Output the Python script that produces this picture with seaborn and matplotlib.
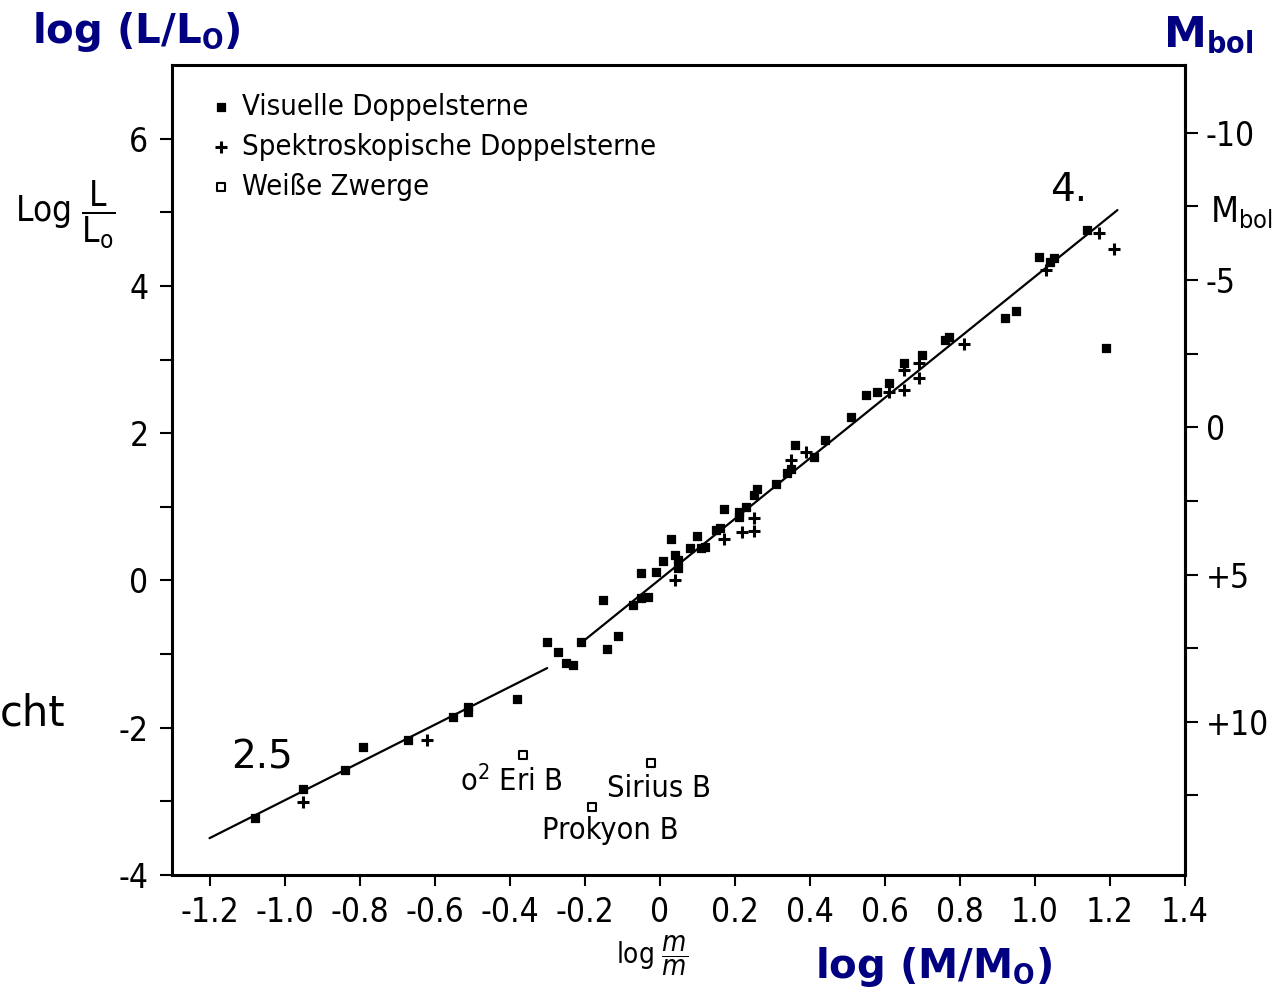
import numpy as np
import pandas as pd
import matplotlib
matplotlib.use('Agg')
import matplotlib.pyplot as plt
import seaborn as sns
from matplotlib import font_manager
from matplotlib.ticker import FixedLocator

# Masse-Leuchtkraft-Beziehung: log(M/Mo) gegen log(L/Lo)
vis_logm = [-1.08, -0.95, -0.84, -0.79, -0.67, -0.55, -0.51, -0.51, -0.38,
            -0.30, -0.27, -0.25, -0.23, -0.21, -0.15, -0.14, -0.11, -0.07,
            -0.05, -0.03, -0.05, -0.01, 0.03, 0.01, 0.04, 0.05, 0.05, 0.08,
            0.10, 0.11, 0.12, 0.15, 0.16, 0.17, 0.21, 0.21, 0.23, 0.25, 0.26,
            0.31, 0.34, 0.35, 0.36, 0.41, 0.44, 0.51, 0.55, 0.58, 0.61, 0.65,
            0.70, 0.76, 0.77, 0.92, 0.95, 1.01, 1.04, 1.05, 1.14, 1.19]
vis_logl = [-3.23, -2.83, -2.57, -2.26, -2.17, -1.85, -1.72, -1.79, -1.61,
            -0.84, -0.97, -1.12, -1.15, -0.84, -0.27, -0.93, -0.75, -0.33,
            -0.24, -0.22, 0.10, 0.12, 0.56, 0.27, 0.35, 0.28, 0.17, 0.44,
            0.60, 0.44, 0.46, 0.69, 0.71, 0.97, 0.86, 0.93, 1.00, 1.16, 1.24,
            1.31, 1.46, 1.51, 1.84, 1.68, 1.91, 2.22, 2.52, 2.56, 2.68, 2.95,
            3.06, 3.27, 3.31, 3.57, 3.66, 4.39, 4.33, 4.38, 4.76, 3.16]

spec_logm = [-0.62, -0.95, 0.04, 0.17, 0.22, 0.25, 0.25, 0.39, 0.35, 0.61,
             0.65, 0.69, 0.65, 0.69, 0.81, 1.03, 1.17, 1.21]
spec_logl = [-2.17, -3.01, 0.01, 0.56, 0.66, 0.67, 0.85, 1.75, 1.64, 2.56,
             2.59, 2.75, 2.86, 2.95, 3.21, 4.22, 4.72, 4.50]

wd_names = ['o$^2$ Eri B', 'Sirius B', 'Prokyon B']
wd_logm = [-0.365, -0.023, -0.181]
wd_logl = [-2.37, -2.48, -3.08]

# eingezeichnete Geraden (Steigung 2.5 und 4)
fit_lo_m = [-1.20, -0.30]
fit_lo_l = [-3.50, -1.19]
fit_hi_m = [-0.21, 1.22]
fit_hi_l = [-0.85, 5.03]

x_ticks = [-1.2, -1.0, -0.8, -0.6, -0.4, -0.2, 0, 0.2, 0.4, 0.6, 0.8, 1.0, 1.2, 1.4]
x_labels = ['-1.2', '-1.0', '-0.8', '-0.6', '-0.4', '-0.2', '0', '0.2', '0.4',
            '0.6', '0.8', '1.0', '1.2', '1.4']
y_ticks = [-4, -2, 0, 2, 4, 6]
y_labels = ['-4', '-2', '0', '2', '4', '6']
mbol_ticks = [-10, -5, 0, 5, 10]
mbol_labels = ['-10', '-5', '0', '+5', '+10']

vis = pd.DataFrame({'logm': vis_logm, 'logl': vis_logl})
spec = pd.DataFrame({'logm': spec_logm, 'logl': spec_logl})
wd = pd.DataFrame({'logm': wd_logm, 'logl': wd_logl, 'name': wd_names})

# schmale Schrift suchen, sonst Roboto
fonts = font_manager.fontManager.ttflist
names = {f.name for f in fonts}
stretch = 'normal'
if 'Liberation Sans Narrow' in names:
    narrow = 'Liberation Sans Narrow'
elif any(f.name == 'DejaVu Sans' and str(f.stretch) in ('condensed', '412', '500')
         and 'Condensed' in f.fname for f in fonts):
    narrow = 'DejaVu Sans'
    stretch = 'condensed'
elif 'Roboto' in names:
    narrow = 'Roboto'
else:
    narrow = 'DejaVu Sans'

sns.set_style('white')
plt.rcParams['font.family'] = [narrow, 'DejaVu Sans']
plt.rcParams['font.stretch'] = stretch
for key in ['text.color', 'axes.labelcolor', 'xtick.color', 'ytick.color']:
    plt.rcParams[key] = 'black'

W, H = 1277, 988
fig = plt.figure(figsize=(W / 100, H / 100), dpi=100)
ax = fig.add_axes([172 / W, 1 - 875 / H, (1185 - 172) / W, (875 - 65) / H])

sns.lineplot(x=fit_lo_m, y=fit_lo_l, ax=ax, color='black', lw=1.6)
sns.lineplot(x=fit_hi_m, y=fit_hi_l, ax=ax, color='black', lw=1.6)
sns.scatterplot(data=vis, x='logm', y='logl', ax=ax, marker='s', s=36,
                color='black', edgecolor='black', linewidth=0.9,
                label='Visuelle Doppelsterne')
sns.scatterplot(data=spec, x='logm', y='logl', ax=ax, marker='+', s=70,
                color='black', linewidth=2.2,
                label='Spektroskopische Doppelsterne')
sns.scatterplot(data=wd, x='logm', y='logl', ax=ax, marker='s', s=30,
                facecolor='white', edgecolor='black', linewidth=1.5,
                label='Weiße Zwerge')

ax.set_xlim(-1.30, 1.40)
ax.set_ylim(-4.0, 7.0)
ax.set_xlabel('')
ax.set_ylabel('')

for sp in ax.spines.values():
    sp.set_visible(True)
    sp.set_color('black')
    sp.set_linewidth(2.2)

ax.set_xticks(x_ticks)
ax.set_xticklabels(x_labels)
ax.set_yticks(y_ticks)
ax.set_yticklabels(y_labels)
ax.yaxis.set_minor_locator(FixedLocator([-3, -1, 1, 3, 5]))
ax.tick_params(axis='x', bottom=True, direction='out', length=8, width=1.5,
               pad=7, labelsize=24)
ax.tick_params(axis='y', which='both', left=True, direction='out', length=9,
               width=1.5, pad=8, labelsize=24)

sec = ax.secondary_yaxis('right', functions=(lambda l: 5.2 - 2.5 * l,
                                             lambda m: (5.2 - m) / 2.5))
sec.set_yticks(mbol_ticks)
sec.set_yticklabels(mbol_labels)
sec.yaxis.set_minor_locator(FixedLocator([-7.5, -2.5, 2.5, 7.5, 12.5]))
sec.tick_params(which='both', direction='out', length=9, width=1.5, pad=6,
                labelsize=24)
sec.spines['right'].set_linewidth(2.2)

leg = ax.legend(loc='upper left', bbox_to_anchor=(0.040, 0.966), frameon=False,
                fontsize=21, handlelength=0.6, handletextpad=0.4,
                labelspacing=0.42, borderpad=0, borderaxespad=0)

for name, m, l, dx, dy in zip(wd['name'], wd['logm'], wd['logl'],
                             [-0.03, 0.02, 0.05], [-0.36, -0.35, -0.32]):
    ax.text(m + dx, l + dy, name, ha='center', va='center', fontsize=22)

ax.text(-1.06, -2.40, '2.5', ha='center', va='center', fontsize=28,
        family='DejaVu Sans', stretch='normal')
ax.text(1.09, 5.30, '4.', ha='center', va='center', fontsize=28,
        family='DejaVu Sans', stretch='normal')

# Achsentitel der Vorlage
fig.text(15 / W, 1 - 215 / H, r'Log $\dfrac{\mathrm{L}}{\mathrm{L_o}}$',
         ha='left', va='center', fontsize=25)
fig.text(1210 / W, 1 - 212 / H, r'M$_{\mathrm{bol}}$', ha='left', va='center',
         fontsize=26)
fig.text(616 / W, 1 - 956 / H, r'log $\dfrac{\mathit{m}}{\mathit{m}}$',
         ha='left', va='center', fontsize=20)

navy = '#000080'
fig.text(32 / W, 1 - 43 / H, r'log (L/L$_{\mathbf{O}}$)', ha='left',
         va='baseline', fontsize=29, fontweight='bold', color=navy,
         family='DejaVu Sans', stretch='normal')
fig.text(1163 / W, 1 - 47 / H, r'M$_{\mathbf{bol}}$', ha='left',
         va='baseline', fontsize=31, fontweight='bold', color=navy,
         family='DejaVu Sans', stretch='normal')
fig.text(815 / W, 1 - 978 / H, r'log (M/M$_{\mathbf{O}}$)', ha='left',
         va='baseline', fontsize=29, fontweight='bold', color=navy,
         family='DejaVu Sans', stretch='normal')
fig.text(0, 1 - 713 / H, 'cht', ha='left', va='center',
         fontsize=30, family='DejaVu Sans', stretch='normal')

fig.savefig('out.png', dpi=100)
